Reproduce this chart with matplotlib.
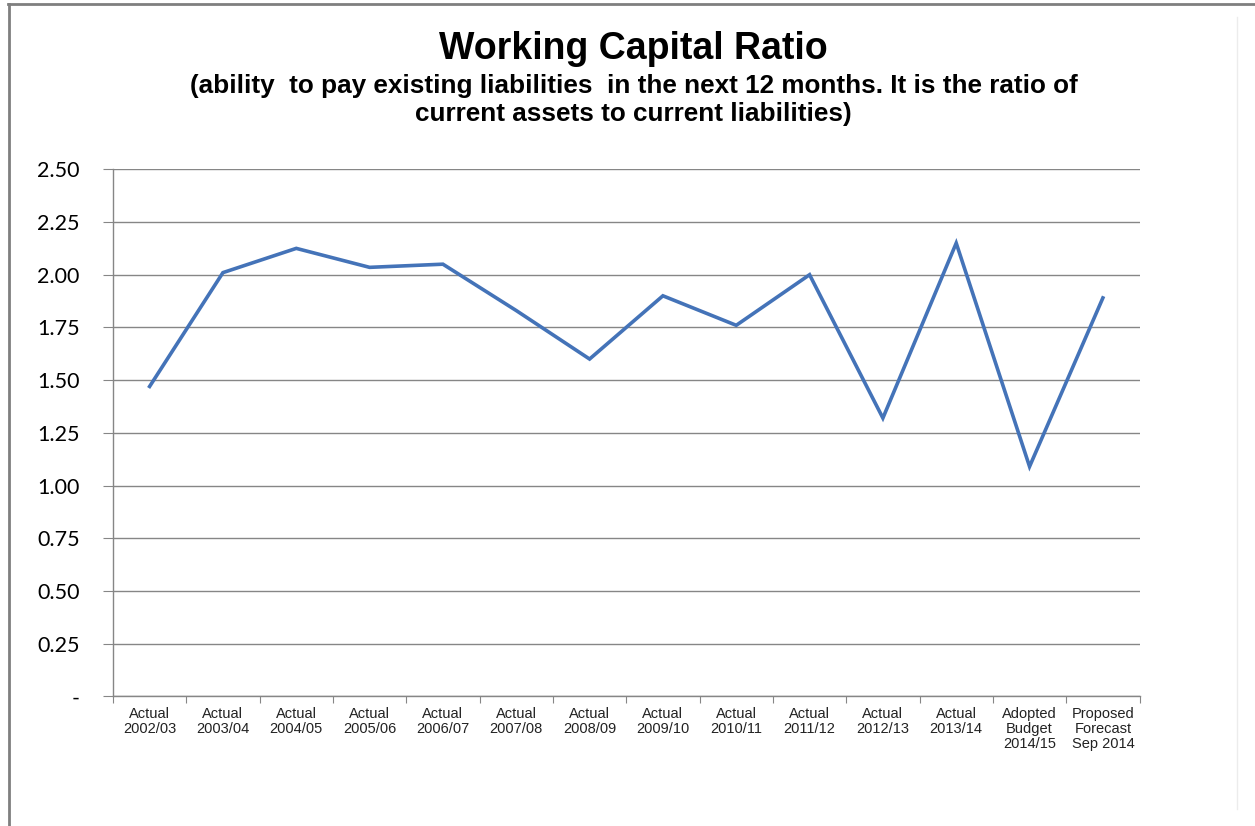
import matplotlib.pyplot as plt
from matplotlib.ticker import FixedLocator, FuncFormatter
from matplotlib.lines import Line2D
import numpy as np

periods = ['Actual\n2002/03', 'Actual\n2003/04', 'Actual\n2004/05', 'Actual\n2005/06',
           'Actual\n2006/07', 'Actual\n2007/08', 'Actual\n2008/09', 'Actual\n2009/10',
           'Actual\n2010/11', 'Actual\n2011/12', 'Actual\n2012/13', 'Actual\n2013/14',
           'Adopted\nBudget\n2014/15', 'Proposed\nForecast\nSep 2014']
ratio = [1.47, 2.01, 2.125, 2.035, 2.05, 1.83, 1.60, 1.90, 1.76, 2.00, 1.32, 2.15, 1.09, 1.89]
y_ticks = [0, 0.25, 0.5, 0.75, 1.0, 1.25, 1.5, 1.75, 2.0, 2.25, 2.5]

grid_col = '#868686'

fig = plt.figure(figsize=(12.55, 8.26), dpi=100)
ax = fig.add_axes([0.090, 0.157, 0.818, 0.638])

x = np.arange(len(periods)) + 0.5
ax.plot(x, ratio, color='#4473b8', lw=2.6, solid_joinstyle='miter', zorder=3)

ax.set_xlim(0, len(periods))
ax.set_ylim(0, 2.5)

ax.yaxis.set_major_locator(FixedLocator(y_ticks))
ax.yaxis.set_major_formatter(FuncFormatter(lambda v, p: '-' if v == 0 else f'{v:.2f}'))
ax.grid(axis='y', color=grid_col, lw=1.0)
ax.set_axisbelow(True)

# category labels centred, tick marks on the boundaries
ax.set_xticks(np.arange(len(periods) + 1))
ax.set_xticklabels([])
ax.set_xticks(x, minor=True)
ax.set_xticklabels(periods, minor=True, fontsize=10.5, family='Liberation Sans',
                   linespacing=1.05, va='top', color='#222222')
ax.tick_params(axis='x', which='major', length=5, color=grid_col, direction='out')
ax.tick_params(axis='x', which='minor', length=0, pad=8)
ax.tick_params(axis='y', length=7, color=grid_col, pad=17, labelsize=15.5)
for lab in ax.get_yticklabels():
    lab.set_family('Lato')

for side in ('top', 'right'):
    ax.spines[side].set_visible(False)
for side in ('left', 'bottom'):
    ax.spines[side].set_color(grid_col)
    ax.spines[side].set_linewidth(1.0)

fig.text(0.505, 0.941, 'Working Capital Ratio', ha='center', va='center',
         fontsize=27, fontweight='bold', family='Liberation Sans')
fig.text(0.505, 0.879, '(ability  to pay existing liabilities  in the next 12 months. It is the ratio of\n'
         'current assets to current liabilities)', ha='center', va='center',
         fontsize=18.8, fontweight='bold', family='Liberation Sans', linespacing=1.22)

# chart frame
fig.add_artist(Line2D([0.006, 1.0], [0.995, 0.995], transform=fig.transFigure, color='#7f7f7f', lw=2))
fig.add_artist(Line2D([0.007, 0.007], [0.0, 0.995], transform=fig.transFigure, color='#7f7f7f', lw=2))
fig.add_artist(Line2D([0.986, 0.986], [0.02, 0.98], transform=fig.transFigure, color='#ececec', lw=1))

fig.savefig('out.png', dpi=100)
